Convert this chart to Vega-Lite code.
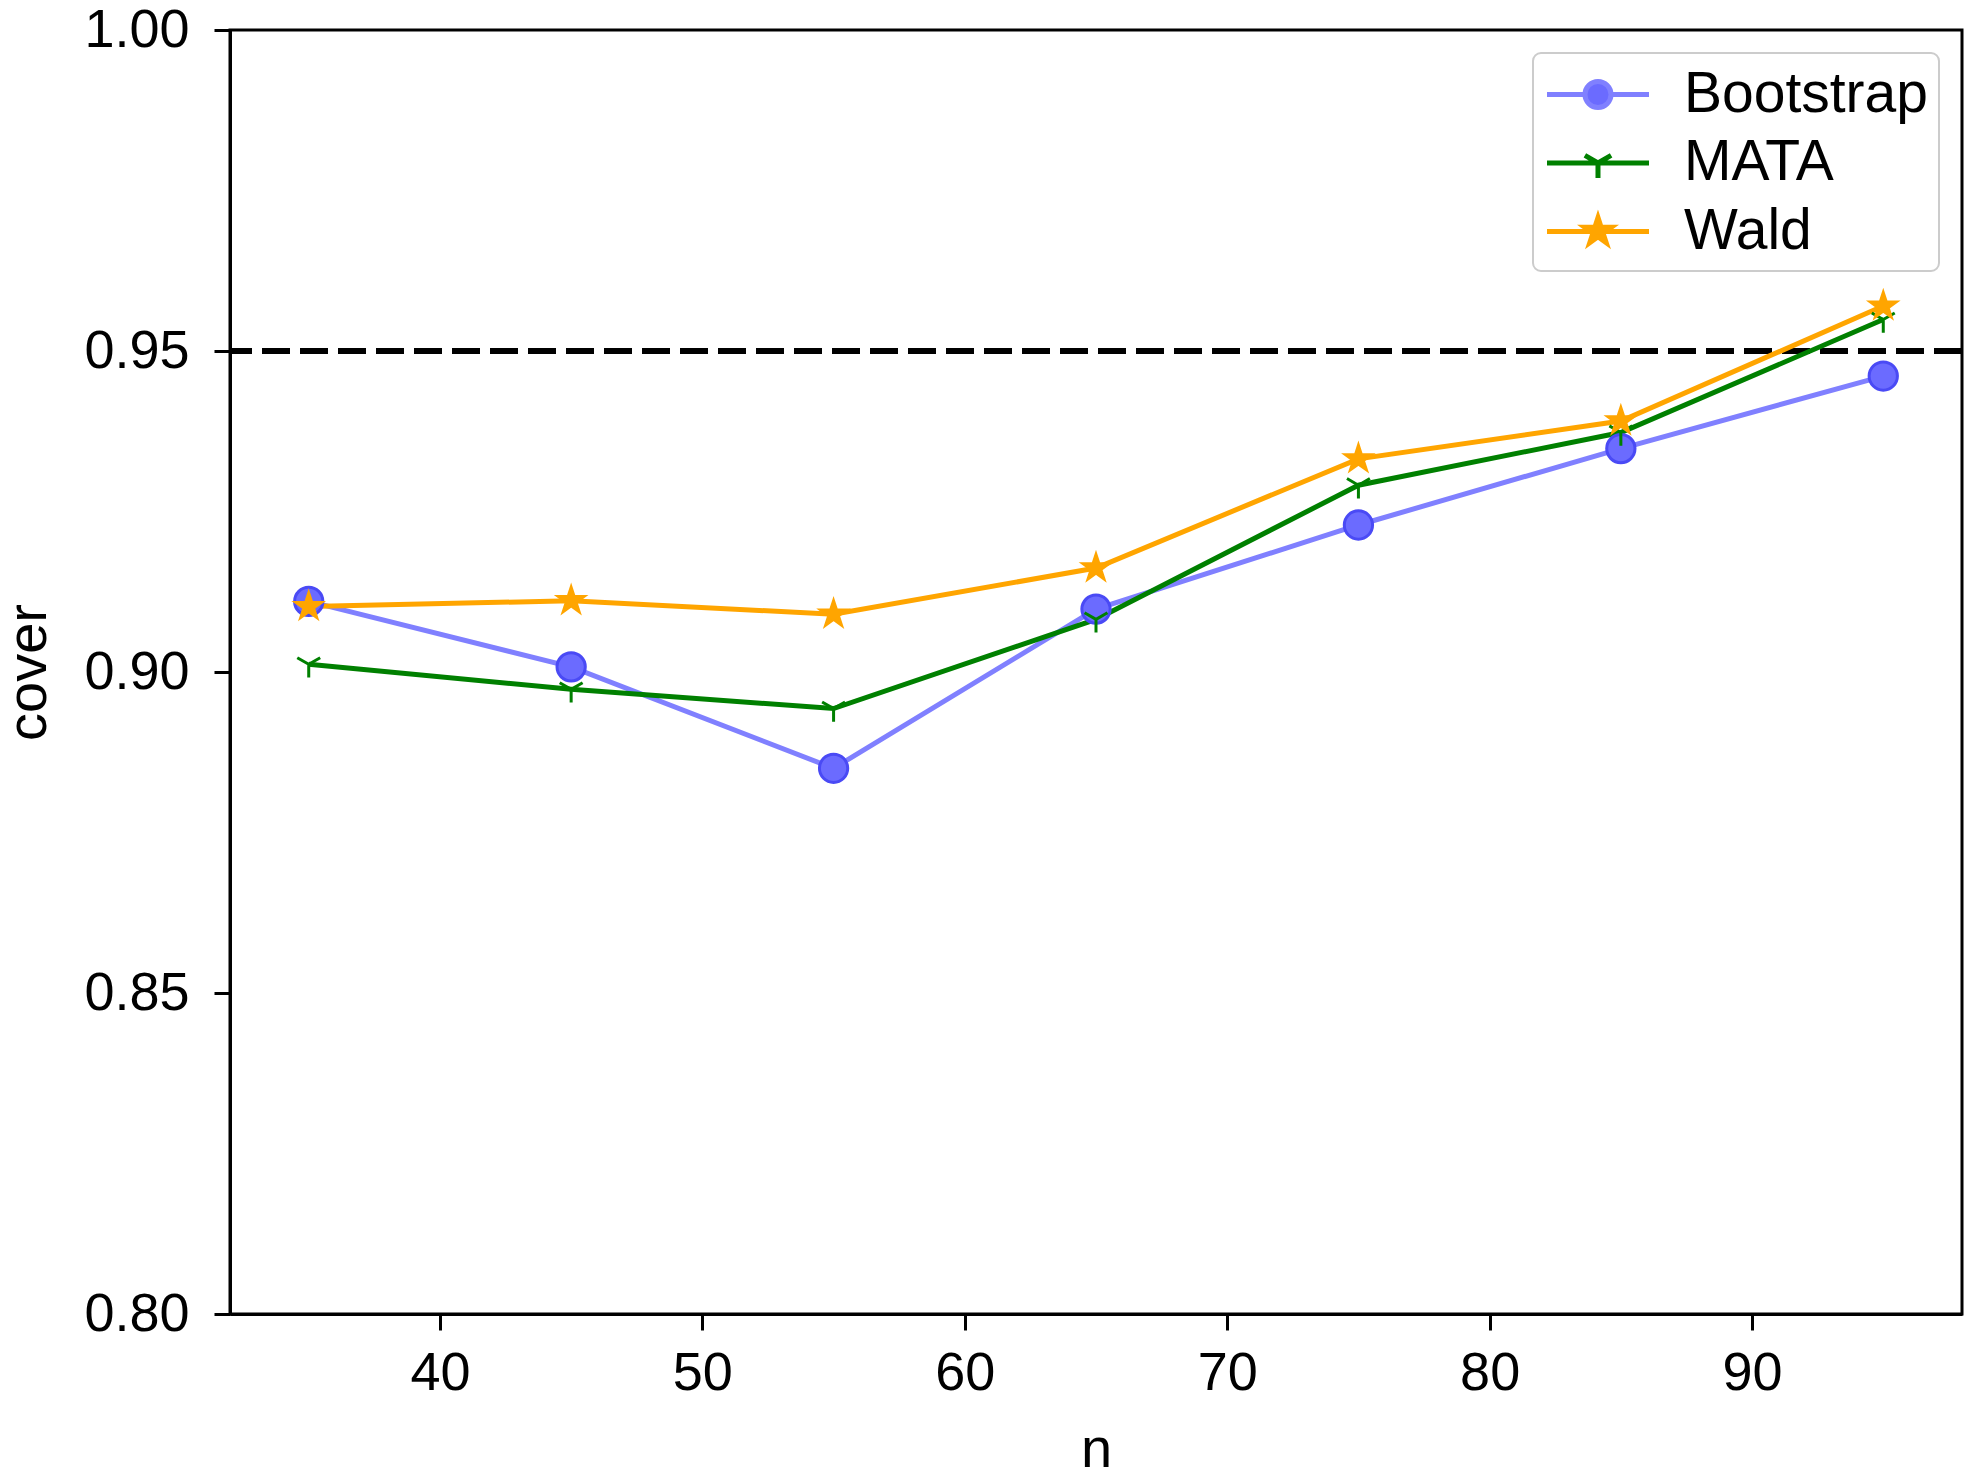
{
  "$schema": "https://vega.github.io/schema/vega-lite/v6.json",
  "width": 1732,
  "height": 1284,
  "autosize": "none",
  "padding": {"left": 230, "top": 30, "right": 7, "bottom": 167},
  "background": "white",
  "config": {
    "font": "Liberation Sans",
    "view": {"stroke": "black", "strokeWidth": 3},
    "axis": {
      "grid": false,
      "domainColor": "black",
      "domainWidth": 3,
      "tickColor": "black",
      "tickWidth": 3,
      "tickSize": 16,
      "labelFontSize": 54,
      "labelColor": "black",
      "labelFont": "Liberation Sans",
      "titleFont": "Liberation Sans",
      "titleFontSize": 56,
      "titleFontWeight": "normal",
      "titleColor": "black"
    }
  },
  "datasets": {
    "cov": [
      {"n": 35, "method": "Bootstrap", "cover": 0.911},
      {"n": 45, "method": "Bootstrap", "cover": 0.9008},
      {"n": 55, "method": "Bootstrap", "cover": 0.885},
      {"n": 65, "method": "Bootstrap", "cover": 0.9098},
      {"n": 75, "method": "Bootstrap", "cover": 0.9229},
      {"n": 85, "method": "Bootstrap", "cover": 0.9348},
      {"n": 95, "method": "Bootstrap", "cover": 0.9461},
      {"n": 35, "method": "MATA", "cover": 0.9012},
      {"n": 45, "method": "MATA", "cover": 0.8973},
      {"n": 55, "method": "MATA", "cover": 0.8943},
      {"n": 65, "method": "MATA", "cover": 0.9082},
      {"n": 75, "method": "MATA", "cover": 0.9291},
      {"n": 85, "method": "MATA", "cover": 0.9373},
      {"n": 95, "method": "MATA", "cover": 0.9549},
      {"n": 35, "method": "Wald", "cover": 0.9102},
      {"n": 45, "method": "Wald", "cover": 0.9111},
      {"n": 55, "method": "Wald", "cover": 0.909},
      {"n": 65, "method": "Wald", "cover": 0.9162},
      {"n": 75, "method": "Wald", "cover": 0.9332},
      {"n": 85, "method": "Wald", "cover": 0.9391},
      {"n": 95, "method": "Wald", "cover": 0.957}
    ],
    "ref": [{"level": 0.95}]
  },
  "layer": [
    {
      "data": {"name": "ref"},
      "mark": {"type": "rule", "color": "black", "strokeWidth": 6, "strokeDash": [28, 10]},
      "encoding": {
        "y": {"field": "level", "type": "quantitative", "scale": {"domain": [0.8, 1.0], "nice": false, "zero": false}}
      }
    },
    {
      "data": {"name": "cov"},
      "mark": {"type": "line", "strokeWidth": 5},
      "encoding": {
        "x": {
          "field": "n", "type": "quantitative",
          "scale": {"domain": [32, 98], "nice": false, "zero": false},
          "axis": {"values": [40, 50, 60, 70, 80, 90], "title": "n", "labelPadding": 16, "titlePadding": 22}
        },
        "y": {
          "field": "cover", "type": "quantitative",
          "scale": {"domain": [0.8, 1.0], "nice": false, "zero": false},
          "axis": {"values": [0.8, 0.85, 0.9, 0.95, 1.0], "format": ".2f", "title": "cover", "labelPadding": 25, "titlePadding": 26}
        },
        "color": {
          "field": "method", "type": "nominal",
          "scale": {"domain": ["Bootstrap", "MATA", "Wald"], "range": ["#8080ff", "#008000", "#ffa500"]},
          "legend": {
            "title": null,
            "orient": "top-right",
            "offset": 23,
            "padding": 11,
            "labelFontSize": 57,
            "labelFont": "Liberation Sans",
            "labelColor": "black",
            "labelOffset": 79,
            "labelLimit": 500,
            "rowPadding": 9.5,
            "symbolSize": 3136,
            "symbolStrokeWidth": 5,
            "strokeColor": "#cccccc",
            "fillColor": "rgba(255,255,255,0.8)",
            "cornerRadius": 8,
            "encode": {
              "legend": {"update": {"strokeWidth": {"value": 2}}},
              "symbols": {
                "update": {
                  "shape": {"signal": "datum.value === 'Bootstrap' ? 'M-0.982,0L0.375,0M1.303,0L2.661,0M0.375,0A0.464,0.464,0,1,0,1.303,0A0.464,0.464,0,1,0,0.375,0Z' : datum.value === 'MATA' ? 'M-0.982,0L2.661,0M0.839,0L0.839,0.54M0.839,0L0.371,-0.27M0.839,0L1.307,-0.27' : 'M-0.982,0L2.661,0M0.839,-0.5L0.951,-0.1545L1.315,-0.1545L1.021,0.059L1.133,0.4045L0.839,0.191L0.545,0.4045L0.657,0.059L0.364,-0.1545L0.727,-0.1545Z'"},
                  "fill": {"signal": "datum.value === 'MATA' ? 'transparent' : datum.value === 'Bootstrap' ? '#6b6bff' : '#ffa500'"},
                  "stroke": {"signal": "scale('color', datum.value)"},
                  "strokeWidth": {"value": 5},
                  "opacity": {"value": 1}
                }
              }
            }
          }
        }
      }
    },
    {
      "data": {"name": "cov"},
      "transform": [{"filter": "datum.method === 'Bootstrap'"}],
      "mark": {"type": "point", "shape": "circle", "filled": true, "size": 800, "strokeWidth": 3, "fill": "#6b6bff", "stroke": "#4a4af5", "opacity": 1},
      "encoding": {
        "x": {"field": "n", "type": "quantitative"},
        "y": {"field": "cover", "type": "quantitative"}
      }
    },
    {
      "data": {"name": "cov"},
      "transform": [{"filter": "datum.method === 'MATA'"}],
      "mark": {"type": "point", "shape": "M0,0L0,1M0,0L-0.866,-0.5M0,0L0.866,-0.5", "filled": false, "size": 700, "strokeWidth": 3, "stroke": "#008000", "opacity": 1},
      "encoding": {
        "x": {"field": "n", "type": "quantitative"},
        "y": {"field": "cover", "type": "quantitative"}
      }
    },
    {
      "data": {"name": "cov"},
      "transform": [{"filter": "datum.method === 'Wald'"}],
      "mark": {"type": "point", "shape": "M0,-1L0.2245,-0.309L0.951,-0.309L0.3633,0.118L0.5878,0.809L0,0.382L-0.5878,0.809L-0.3633,0.118L-0.951,-0.309L-0.2245,-0.309Z", "filled": true, "size": 900, "strokeWidth": 2, "fill": "#ffa500", "stroke": "#ffa500", "opacity": 1},
      "encoding": {
        "x": {"field": "n", "type": "quantitative"},
        "y": {"field": "cover", "type": "quantitative"}
      }
    }
  ]
}
